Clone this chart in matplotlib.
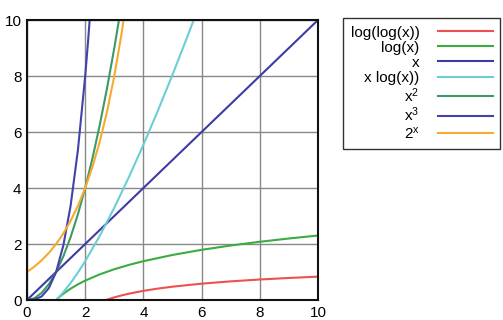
import matplotlib
matplotlib.use("Agg")
import matplotlib.pyplot as plt

plt.rcParams['font.family'] = ['Liberation Sans', 'DejaVu Sans']
plt.rcParams['mathtext.fontset'] = 'custom'
plt.rcParams['mathtext.rm'] = 'Liberation Sans'
plt.rcParams['mathtext.it'] = 'Liberation Sans'

# values
loglog_x = [2.72, 2.75, 2.8, 2.9, 3.0, 3.25, 3.5, 4.0, 4.5, 5.0, 6.0, 7.0, 8.0, 9.0, 10.0]
loglog_y = [0.0, 0.012, 0.029, 0.063, 0.094, 0.164, 0.225, 0.327, 0.408, 0.476, 0.583, 0.666, 0.732, 0.787, 0.834]

log_x = [1.0, 1.1, 1.2, 1.3, 1.4, 1.5, 1.75, 2.0, 2.5, 3.0, 3.5, 4.0, 5.0, 6.0, 7.0, 8.0, 9.0, 10.0]
log_y = [0.0, 0.095, 0.182, 0.262, 0.336, 0.405, 0.560, 0.693, 0.916, 1.099, 1.253, 1.386, 1.609, 1.792, 1.946, 2.079, 2.197, 2.303]

lin_x = [0, 10]
lin_y = [0, 10]

xlog_x = [1.0, 1.25, 1.5, 1.75, 2.0, 2.5, 3.0, 3.5, 4.0, 4.5, 5.0, 5.5, 5.75]
xlog_y = [0.0, 0.279, 0.608, 0.979, 1.386, 2.291, 3.296, 4.385, 5.545, 6.768, 8.047, 9.376, 10.058]

sq_x = [0.0, 0.25, 0.5, 0.75, 1.0, 1.25, 1.5, 1.75, 2.0, 2.25, 2.5, 2.75, 3.0, 3.25]
sq_y = [0.0, 0.0625, 0.25, 0.5625, 1.0, 1.5625, 2.25, 3.0625, 4.0, 5.0625, 6.25, 7.5625, 9.0, 10.5625]

cube_x = [0.0, 0.25, 0.5, 0.75, 1.0, 1.25, 1.5, 1.75, 2.0, 2.1, 2.2]
cube_y = [0.0, 0.016, 0.125, 0.422, 1.0, 1.953, 3.375, 5.359, 8.0, 9.261, 10.648]

exp_x = [0.0, 0.25, 0.5, 0.75, 1.0, 1.25, 1.5, 1.75, 2.0, 2.25, 2.5, 2.75, 3.0, 3.25, 3.5]
exp_y = [1.0, 1.189, 1.414, 1.682, 2.0, 2.378, 2.828, 3.364, 4.0, 4.757, 5.657, 6.727, 8.0, 9.514, 11.314]

labels = ['log(log(x))', 'log(x)', 'x', 'x log(x))',
          r'$\mathregular{x^2}$', r'$\mathregular{x^3}$', r'$\mathregular{2^x}$']
colors = ['#ee5050', '#3aac42', '#3c3ca4', '#6ccdd6', '#3d9a64', '#4242aa', '#f6aa30']
series = [(loglog_x, loglog_y), (log_x, log_y), (lin_x, lin_y), (xlog_x, xlog_y),
          (sq_x, sq_y), (cube_x, cube_y), (exp_x, exp_y)]

fig = plt.figure(figsize=(5.03, 3.2), dpi=100)
ax = fig.add_axes([27/503, 1-300/320, 291/503, 280/320])

for (xs, ys), lab, c in zip(series, labels, colors):
    ax.plot(xs, ys, color=c, lw=1.5, label=lab)

ax.set_xlim(0, 10)
ax.set_ylim(0, 10)
ax.set_xticks(range(0, 11, 2))
ax.set_yticks(range(0, 11, 2))
ax.grid(True, color='#888888', lw=1)
ax.set_axisbelow(True)
ax.tick_params(length=0, labelsize=11, pad=4)
for s in ax.spines.values():
    s.set_linewidth(1.5)
    s.set_color('#111111')

leg = ax.legend(loc='upper left', bbox_to_anchor=(343/503, 1-18/320),
                bbox_transform=fig.transFigure, markerfirst=False,
                fancybox=False, framealpha=1, edgecolor='#333333',
                fontsize=11, handlelength=3.6, labelspacing=0.07,
                borderaxespad=0, borderpad=0.5, handletextpad=1.2)
leg.get_frame().set_linewidth(1.0)

fig.savefig('out.png', dpi=100)
